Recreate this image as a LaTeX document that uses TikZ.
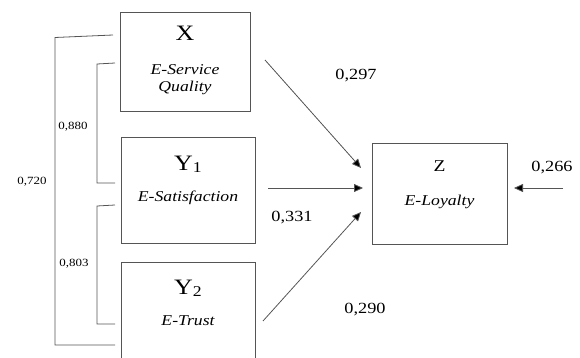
\documentclass[tikz,border=0pt]{standalone}
\usepackage{fontspec}
\usepackage{graphicx}
\setmainfont{Liberation Serif}
\usetikzlibrary{arrows.meta}
\definecolor{linegray}{HTML}{555555}
% labels are set slightly wide
\newcommand\wtxt[1]{\scalebox{1.18}[1]{#1}}
\begin{document}
\begin{tikzpicture}[x=1pt,y=-1pt,
  varbox/.style={draw=linegray,line width=0.8pt,inner sep=0pt},
  pathline/.style={draw=linegray,line width=0.8pt,-{Triangle[length=9pt,width=8pt,fill=black]}},
  bracket/.style={draw=linegray,line width=0.8pt},
  coef/.style={font=\fontsize{15.5}{18}\selectfont,inner sep=0pt},
  corr/.style={font=\fontsize{11}{13}\selectfont,inner sep=0pt},
  bigletter/.style={font=\fontsize{22}{24}\selectfont,inner sep=0pt},
  varname/.style={font=\fontsize{15}{18}\selectfont\itshape,inner sep=0pt,align=center}]
\useasboundingbox (0,0) rectangle (580,358);
% construct boxes
\node[varbox,minimum width=130pt,minimum height=99pt] (X) at (185,61.5) {};
\node[varbox,minimum width=134pt,minimum height=106pt] (Y1) at (188,190) {};
\node[varbox,minimum width=134pt,minimum height=110pt] (Y2) at (188,317) {};
\node[varbox,minimum width=135pt,minimum height=101pt] (Z) at (439.5,193.5) {};
% box titles
\node[bigletter] (tX) at (185,33) {\wtxt{X}};
\node[varname] (nX) at (185,80) {\wtxt{E-Service}\\[-1pt]\wtxt{Quality}};
\node[bigletter] (tY1) at (188,164) {\wtxt{Y\raisebox{-2pt}{\fontsize{15}{18}\selectfont 1}}};
\node[varname] (nY1) at (188,198) {\wtxt{E-Satisfaction}};
\node[bigletter] (tY2) at (188,288) {\wtxt{Y\raisebox{-2pt}{\fontsize{15}{18}\selectfont 2}}};
\node[varname] (nY2) at (188,321) {\wtxt{E-Trust}};
\node[font=\fontsize{16.5}{18}\selectfont,inner sep=0pt] (tZ) at (439.5,166) {\wtxt{Z}};
\node[varname] (nZ) at (439.5,202) {\wtxt{E-Loyalty}};
% path arrows
\coordinate (xs) at (265,60);
\coordinate (xe) at (361,168);
\coordinate (y1s) at (268,188);
\coordinate (y1e) at (363,188);
\coordinate (y2s) at (263,321);
\coordinate (y2e) at (361,212);
\coordinate (es) at (563,188);
\coordinate (ee) at (514,188);
\draw[pathline] (xs) -- (xe);
\draw[pathline] (y1s) -- (y1e);
\draw[pathline] (y2s) -- (y2e);
\draw[pathline] (es) -- (ee);
% path coefficients
\node[coef] (c1) at (356,76) {\wtxt{0,297}};
\node[coef] (c2) at (292,218) {\wtxt{0,331}};
\node[coef] (c3) at (365,310) {\wtxt{0,290}};
\node[coef] (c4) at (552,168) {\wtxt{0,266}};
% correlation brackets
\coordinate (o1) at (113,35);
\coordinate (o2) at (115,345);
\coordinate (a1) at (115,63);
\coordinate (a2) at (115,183);
\coordinate (b1) at (115,205);
\coordinate (b2) at (115,324);
\draw[bracket] (o1) -- (55,37.5) -- (55,345) -- (o2);
\draw[bracket] (a1) -- (97,64) -- (97,183) -- (a2);
\draw[bracket] (b1) -- (97,206) -- (97,324) -- (b2);
\node[corr] (r1) at (32,182) {\wtxt{0,720}};
\node[corr] (r2) at (73,127) {\wtxt{0,880}};
\node[corr] (r3) at (74,264) {\wtxt{0,803}};
\end{tikzpicture}
\end{document}
